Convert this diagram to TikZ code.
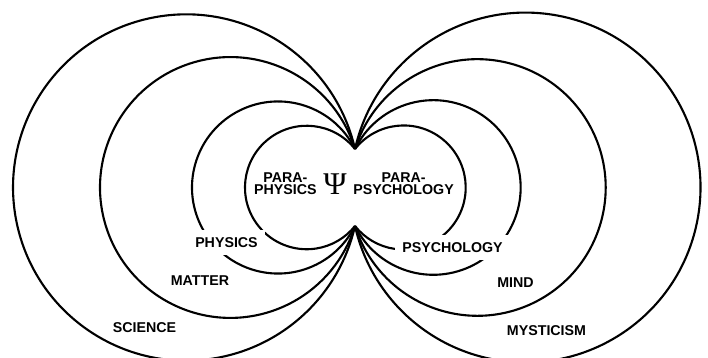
\documentclass[tikz,border=0pt]{standalone}
\usepackage{fontspec}
\setmainfont{Liberation Sans}
\newfontfamily\psifont{Liberation Serif}
\usepackage{tikz}
\usetikzlibrary{positioning}
\tikzset{
  ring/.style={line width=1.2pt, color=black},
  tag/.style={font=\fontsize{8.1}{7}\selectfont\bfseries, align=center, inner sep=1pt},
  gaptag/.style={tag, fill=white, inner xsep=4pt, inner ysep=4pt},
  psi/.style={font=\psifont\fontsize{18}{18}\selectfont, inner sep=0pt}
}

\begin{document}
\begin{tikzpicture}
  \useasboundingbox (0,0) rectangle (14.16,7.16);

  % Pinch points
  \coordinate (ptop) at (7.10, 4.18);
  \coordinate (pbot) at (7.10, 2.64);

  % Left rings
  \draw[ring] (ptop) arc[start angle=12.85, end angle=347.15, radius=3.463];
  \draw[ring] (ptop) arc[start angle=17.17, end angle=342.83, radius=2.608];
  \draw[ring] (ptop) arc[start angle=26.58, end angle=333.42, radius=1.721];
  \draw[ring] (ptop) arc[start angle=38.58, end angle=321.42, radius=1.235];

  % Right rings
  \draw[ring] (ptop) arc[start angle=167.28, end angle=-167.28, radius=3.498];
  \draw[ring] (ptop) arc[start angle=162.54, end angle=-162.54, radius=2.566];
  \draw[ring] (ptop) arc[start angle=153.84, end angle=-153.84, radius=1.746];
  \draw[ring] (ptop) arc[start angle=141.64, end angle=-141.64, radius=1.241];

  % Centre
  \node[psi] (lpsi) at (6.70, 3.48) {Ψ};
  \node[tag, left=2.4pt of lpsi] (lparaphys) {PARA-\\PHYSICS};
  \node[tag, right=2.4pt of lpsi] (lparapsy) {PARA-\\PSYCHOLOGY};

  % Left labels
  \node[gaptag] (lphysics) at (4.53, 2.31) {PHYSICS};
  \node[tag] (lmatter) at (4.00, 1.55) {MATTER};
  \node[tag] (lscience) at (2.89, 0.61) {SCIENCE};

  % Right labels
  \node[gaptag] (lpsychology) at (9.05, 2.21) {PSYCHOLOGY};
  \node[tag] (lmind) at (10.31, 1.51) {MIND};
  \node[tag] (lmysticism) at (10.93, 0.54) {MYSTICISM};
\end{tikzpicture}
\end{document}
